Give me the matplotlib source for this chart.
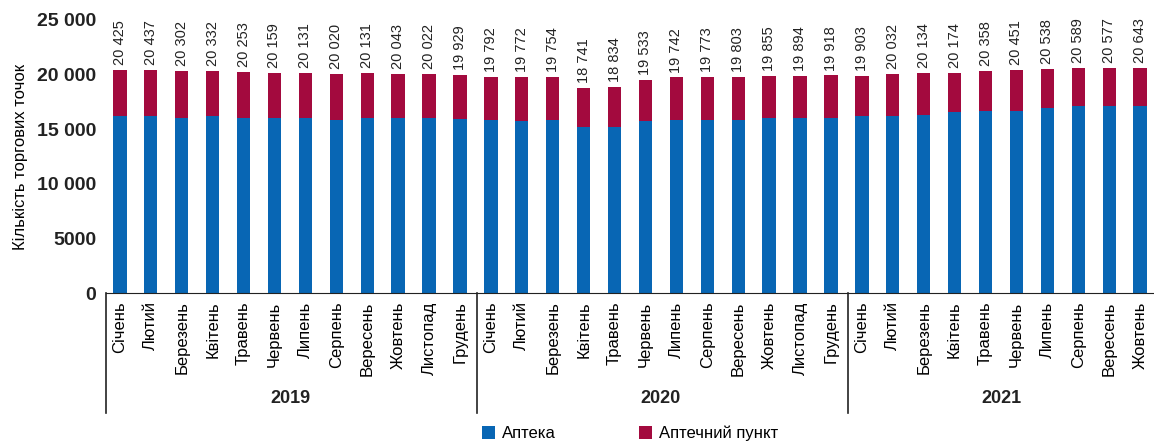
import matplotlib
matplotlib.use("Agg")
import matplotlib.pyplot as plt
from matplotlib.font_manager import fontManager

# --- data ---
years = ["2019", "2020", "2021"]
months_2019 = ["Січень", "Лютий", "Березень", "Квітень", "Травень", "Червень",
               "Липень", "Серпень", "Вересень", "Жовтень", "Листопад", "Грудень"]
months_2020 = list(months_2019)
months_2021 = months_2019[:10]

totals = [20425, 20437, 20302, 20332, 20253, 20159, 20131, 20020, 20131, 20043, 20022, 19929,
          19792, 19772, 19754, 18741, 18834, 19533, 19742, 19773, 19803, 19855, 19894, 19918,
          19903, 20032, 20134, 20174, 20358, 20451, 20538, 20589, 20577, 20643]
apteka = [16200, 16200, 16050, 16200, 16000, 16000, 16000, 15850, 16000, 16050, 16050, 15900,
          15880, 15730, 15880, 15180, 15180, 15730, 15880, 15880, 15880, 16030, 16030, 16030,
          16180, 16180, 16330, 16550, 16700, 16700, 16940, 17090, 17090, 17090]
punkt = [t - a for t, a in zip(totals, apteka)]

BLUE = "#0866b4"
RED = "#a30a3e"

names = {f.name for f in fontManager.ttflist}
narrow = "Liberation Sans Narrow" if "Liberation Sans Narrow" in names else "Liberation Sans"
plt.rcParams["font.family"] = ["Liberation Sans", "DejaVu Sans"]

fig = plt.figure(figsize=(11.54, 4.41), dpi=100)
ax = fig.add_axes([106 / 1154, 1 - 293 / 441, 1 - 106 / 1154, (293 - 20) / 441])

labels = months_2019 + months_2020 + months_2021
x = list(range(len(totals)))
ax.bar(x, apteka, width=0.43, color=BLUE, label="Аптека")
ax.bar(x, punkt, width=0.43, bottom=apteka, color=RED, label="Аптечний пункт")

for xi, t in zip(x, totals):
    ax.text(xi, t + 450, f"{t:,}".replace(",", " "), rotation=90, ha="center",
            va="bottom", fontsize=10.5, family=[narrow, "DejaVu Sans"], color="#222222")

ax.set_xlim(-0.45, len(totals) - 0.55)
ax.set_ylim(0, 25000)
ax.set_yticks([0, 5000, 10000, 15000, 20000, 25000])
ax.set_yticklabels(["0", "5000", "10 000", "15 000", "20 000", "25 000"],
                   fontsize=14, fontweight="bold", color="#222222")
ax.set_xticks(x)
ax.set_xticklabels(labels, rotation=90, fontsize=12, family=[narrow, "DejaVu Sans"])
ax.tick_params(axis="both", length=0)
ax.tick_params(axis="x", pad=6)
ax.tick_params(axis="y", pad=7)
for s in ["top", "right", "left"]:
    ax.spines[s].set_visible(False)
ax.spines["bottom"].set_color("#222222")
ax.set_ylabel("Кількість торгових точок", fontsize=12, family=[narrow, "DejaVu Sans"])
ax.yaxis.set_label_coords(-0.074, 0.5)

# year group separators and labels below the month labels
trans = ax.get_xaxis_transform()
sizes = [len(months_2019), len(months_2020), len(months_2021)]
start = 0
for yr, n in zip(years, sizes):
    ax.plot([start - 0.45, start - 0.45], [0, -0.44], transform=trans, color="#222222",
            lw=1.2, clip_on=False)
    ax.text(start + (n - 1) / 2, -0.385, yr, transform=trans, ha="center", va="center",
            fontsize=13, fontweight="bold", color="#222222")
    start += n

fig.legend(loc="lower center", bbox_to_anchor=(630 / 1154, -0.035), ncol=2, frameon=False,
           fontsize=12, handlelength=0.8, handleheight=0.8, handletextpad=0.4,
           columnspacing=5)

plt.savefig("out.png", dpi=100)
